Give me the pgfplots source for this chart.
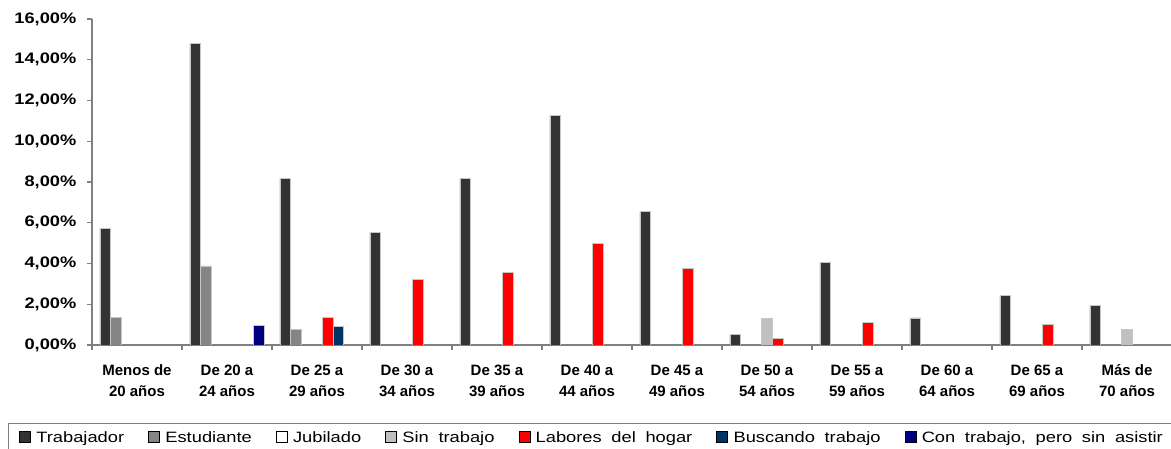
\documentclass[border=0pt]{standalone}
\usepackage{pgfplots}
\pgfplotsset{compat=1.18}
\usepackage{fontspec}
\setmainfont{Liberation Sans}
\newfontfamily\wideft[FakeStretch=1.2]{Liberation Sans}
\newfontfamily\legft[FakeStretch=1.22,WordSpace=1.9]{Liberation Sans}
\definecolor{ctrab}{HTML}{333333}
\definecolor{cest}{HTML}{858585}
\definecolor{csin}{HTML}{C0C0C0}
\definecolor{clab}{HTML}{FF0000}
\definecolor{cbus}{HTML}{003366}
\definecolor{ccon}{HTML}{000080}
\definecolor{caxis}{HTML}{808080}
\pgfplotsset{
  sq/.style={legend image code/.code={\draw[##1,draw=black,line width=0.4pt] (0pt,-3.6pt) rectangle (8.25pt,4.65pt);}},
  mybar/.style={ybar, bar width=0.1178, draw=gray!45, line width=0.4pt, fill=#1, sq},
}
\begin{document}
\begin{tikzpicture}
\useasboundingbox (0pt,0pt) rectangle (878.25pt,336.75pt);
\clip (0pt,0pt) rectangle (878.25pt,336.75pt);
\begin{axis}[
  at={(69pt,78pt)}, anchor=south west,
  scale only axis, width=810pt, height=244.5pt,
  xmin=-0.5, xmax=11.5, ymin=0, ymax=16,
  axis lines*=left,
  axis line style={draw=caxis, line width=0.8pt},
  every tick/.style={draw=caxis, line width=0.8pt},
  tick align=outside,
  major tick length=3.75pt, minor tick length=3.75pt,
  xtick={0,...,11},
  major x tick style={draw=none},
  minor xtick={-0.5,0.5,...,11.5},
  typeset ticklabels with strut,
  xticklabels={{Menos de\\20 años},{De 20 a\\24 años},{De 25 a\\29 años},{De 30 a\\34 años},{De 35 a\\39 años},{De 40 a\\44 años},{De 45 a\\49 años},{De 50 a\\54 años},{De 55 a\\59 años},{De 60 a\\64 años},{De 65 a\\69 años},{Más de\\70 años}},
  xticklabel style={align=center, font=\bfseries\fontsize{11.25}{16.2}\selectfont, yshift=-4pt},
  ytick={0,2,...,16},
  /pgf/number format/assume math mode=true,
  yticklabel={\pgfmathprintnumber[fixed,fixed zerofill,precision=2,use comma]{\tick}\%},
  yticklabel style={font=\wideft\bfseries\fontsize{11.4}{13}\selectfont, xshift=-4.5pt},
  legend style={at={(-0.0778,-0.239)}, anchor=north west, legend columns=-1,
    draw=caxis, line width=0.8pt, font=\legft\fontsize{11.25}{13}\selectfont,
    /tikz/every even column/.append style={column sep=16pt},
    /tikz/every odd column/.append style={column sep=2.25pt},
    inner xsep=8pt, inner ysep=4pt},
  legend cell align=left,
]
\addplot[mybar=ctrab, bar shift=-0.3533] coordinates {(0,5.71)(1,14.79)(2,8.16)(3,5.53)(4,8.16)(5,11.27)(6,6.56)(7,0.52)(8,4.04)(9,1.33)(10,2.42)(11,1.95)};
\addlegendentry{Trabajador}
\addplot[mybar=cest, bar shift=-0.2356] coordinates {(0,1.34)(1,3.88)(2,0.77)};
\addlegendentry{Estudiante}
\addlegendimage{sq, fill=white}
\addlegendentry{Jubilado}
\addplot[mybar=csin, bar shift=0] coordinates {(7,1.31)(11,0.75)};
\addlegendentry{Sin trabajo}
\addplot[mybar=clab, bar shift=0.1178] coordinates {(2,1.34)(3,3.22)(4,3.55)(5,4.97)(6,3.75)(7,0.33)(8,1.10)(10,1.03)};
\addlegendentry{Labores del hogar}
\addplot[mybar=cbus, bar shift=0.2356] coordinates {(2,0.90)};
\addlegendentry{Buscando trabajo}
\addplot[mybar=ccon, bar shift=0.3533] coordinates {(1,0.95)};
\addlegendentry{Con trabajo, pero sin asistir}
\end{axis}
\end{tikzpicture}
\end{document}
